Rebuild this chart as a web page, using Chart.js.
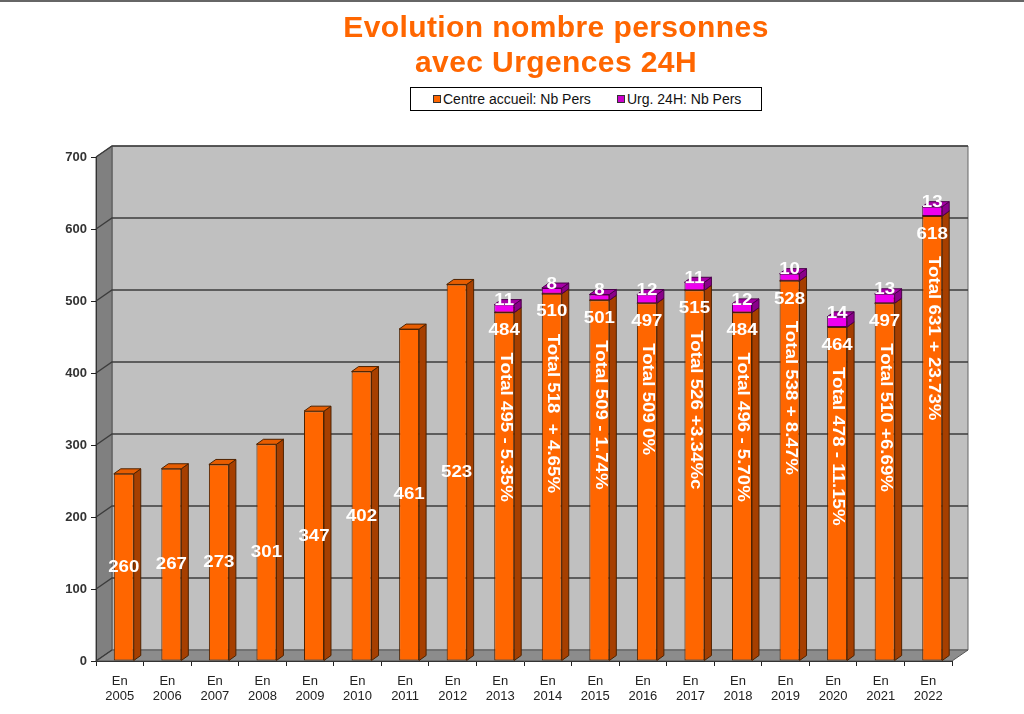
<!DOCTYPE html>
<html>
<head>
<meta charset="utf-8">
<script src="https://cdn.jsdelivr.net/npm/chart.js@4/dist/chart.umd.min.js"></script>
<style>
  body { margin: 0; background: #fff; font-family: "Liberation Sans", Arial, sans-serif; }
  #wrap { position: relative; width: 1024px; height: 714px; overflow: hidden; }
  #frame { position: absolute; left: 0; top: 0; width: 1024px; height: 2px; background: #666; }
  #title { position: absolute; left: 206px; top: 9px; width: 700px; text-align: center;
           color: #ff6600; font-weight: bold; font-size: 30px; line-height: 35px; letter-spacing: 0.4px; }
  #legend { position: absolute; left: 410px; top: 87px; width: 350px; height: 22px;
            border: 1px solid #000; font-size: 14px; color: #111; background: #fff; }
  #legend .sq { position: absolute; top: 7px; width: 6px; height: 6px; border: 1px solid #333; }
  #legend .tx { position: absolute; top: 0; line-height: 22px; white-space: nowrap; }
</style>
</head>
<body>
<div id="wrap">
  <canvas id="chart" width="1024" height="714"></canvas>
  <div id="frame"></div>
  <div id="title">Evolution nombre personnes<br>avec Urgences 24H</div>
  <div id="legend"></div>
</div>
<script>
// --- DATA ---
const years = ['2005','2006','2007','2008','2009','2010','2011','2012','2013',
               '2014','2015','2016','2017','2018','2019','2020','2021','2022'];
const centreAccueil = [260, 267, 273, 301, 347, 402, 461, 523, 484,
                       510, 501, 497, 515, 484, 528, 464, 497, 618];
const urgences24h = [null, null, null, null, null, null, null, null, 11,
                     8, 8, 12, 11, 12, 10, 14, 13, 13];
const totalLabels = [null, null, null, null, null, null, null, null,
  'Total 495 - 5.35%', 'Total 518  + 4.65%', 'Total 509 - 1.74%', 'Total 509 0%',
  'Total 526 +3.34%c', 'Total 496 - 5.70%', 'Total 538 + 8.47%', 'Total 478 - 11.15%',
  'Total 510 +6.69%', 'Total 631 + 23.73%'];
const yTicks = [0, 100, 200, 300, 400, 500, 600, 700];

const seriesNames = ['Centre accueil: Nb Pers', 'Urg. 24H: Nb Pers'];
const ORANGE = '#ff6600', PURPLE = '#ee00ee';

// --- 3D look ---
const WALL_DX = 16, WALL_DY = -11;   // depth of the walls
const BAR_DX = 7, BAR_DY = -5;       // depth of the bars
const SHIFT_X = 4;                   // bars sit a bit into the depth
const STRETCH = 1.1;                 // labels are a little wide in the original

const faceColors = [
  { side: '#a63f00', top: '#e85d00', line: '#4d2200' },
  { side: '#8a008a', top: '#a800a8', line: '#4a004a' }
];

function poly(ctx, pts, fill, stroke) {
  ctx.beginPath();
  ctx.moveTo(pts[0][0], pts[0][1]);
  for (let i = 1; i < pts.length; i++) ctx.lineTo(pts[i][0], pts[i][1]);
  ctx.closePath();
  if (fill) { ctx.fillStyle = fill; ctx.fill(); }
  if (stroke) { ctx.strokeStyle = stroke; ctx.lineWidth = 1; ctx.stroke(); }
}

function wideText(ctx, txt, x, y, angle) {
  ctx.save();
  ctx.translate(x, y);
  if (angle) ctx.rotate(angle);
  ctx.scale(STRETCH, 1);
  ctx.fillText(txt, 0, 0);
  ctx.restore();
}

const box3d = {
  id: 'box3d',
  beforeDraw(chart) {
    const { ctx, chartArea: a, scales } = chart;
    const L = a.left, R = a.right, T = a.top, B = a.bottom;
    ctx.save();
    // back wall
    poly(ctx, [[L + WALL_DX, T + WALL_DY], [R + WALL_DX, T + WALL_DY],
               [R + WALL_DX, B + WALL_DY], [L + WALL_DX, B + WALL_DY]], '#c0c0c0', '#666');
    // left wall
    poly(ctx, [[L, T], [L + WALL_DX, T + WALL_DY], [L + WALL_DX, B + WALL_DY], [L, B]], '#808080', '#555');
    // floor
    poly(ctx, [[L, B], [R, B], [R + WALL_DX, B + WALL_DY], [L + WALL_DX, B + WALL_DY]], '#8c8c8c', '#555');
    // grid lines
    ctx.strokeStyle = '#3c3c3c';
    ctx.lineWidth = 1.4;
    yTicks.forEach(v => {
      const y = scales.y.getPixelForValue(v);
      ctx.beginPath();
      ctx.moveTo(L, y);
      ctx.lineTo(L + WALL_DX, y + WALL_DY);
      if (v > 0) ctx.lineTo(R + WALL_DX, y + WALL_DY);
      ctx.stroke();
    });
    ctx.restore();
  },
  beforeDatasetsDraw(chart) {
    const ctx = chart.ctx;
    ctx.save();
    ctx.translate(SHIFT_X, 0);
    chart.data.datasets.forEach((ds, di) => {
      const meta = chart.getDatasetMeta(di);
      const c = faceColors[di];
      meta.data.forEach((el, i) => {
        if (ds.data[i] == null) return;
        const l = el.x - el.width / 2, r = el.x + el.width / 2;
        const t = el.y, b = el.base;
        poly(ctx, [[r, b], [r + BAR_DX, b + BAR_DY], [r + BAR_DX, t + BAR_DY], [r, t]], c.side, c.line);
        poly(ctx, [[l, t], [r, t], [r + BAR_DX, t + BAR_DY], [l + BAR_DX, t + BAR_DY]], c.top, c.line);
      });
    });
  },
  afterDatasetsDraw(chart) {
    const ctx = chart.ctx;
    const m0 = chart.getDatasetMeta(0), m1 = chart.getDatasetMeta(1);
    ctx.fillStyle = '#fff';
    ctx.font = 'bold 17px "Liberation Sans", Arial, sans-serif';
    ctx.textAlign = 'center';
    ctx.textBaseline = 'middle';
    m0.data.forEach((el, i) => {
      const hasUrg = urgences24h[i] != null;
      const y = hasUrg ? el.y + 18 : (el.y + el.base) / 2;
      wideText(ctx, String(centreAccueil[i]), el.x, y);
      if (hasUrg) {
        const p = m1.data[i];
        wideText(ctx, String(urgences24h[i]), p.x, p.y - 4);
      }
      if (totalLabels[i]) {
        ctx.textAlign = 'left';
        wideText(ctx, totalLabels[i], el.x + 1, el.y + 40, Math.PI / 2);
        ctx.textAlign = 'center';
      }
    });
    ctx.restore(); // undo SHIFT_X
  }
};

new Chart(document.getElementById('chart'), {
  type: 'bar',
  data: {
    labels: years.map(y => ['En', y]),
    datasets: [
      { label: seriesNames[0], data: centreAccueil, backgroundColor: ORANGE,
        borderColor: '#4d2200', borderWidth: 1, borderSkipped: false },
      { label: seriesNames[1], data: urgences24h, backgroundColor: PURPLE,
        borderColor: '#4a004a', borderWidth: 1, borderSkipped: false }
    ]
  },
  options: {
    responsive: false,
    animation: false,
    devicePixelRatio: 1,
    layout: { padding: { top: 157, right: 72, bottom: 0, left: 0 } },
    datasets: { bar: { categoryPercentage: 1, barPercentage: 0.42 } },
    plugins: { legend: { display: false }, title: { display: false }, tooltip: { enabled: false } },
    scales: {
      x: {
        stacked: true,
        afterFit: s => { s.height = 53; },
        grid: { drawOnChartArea: false, drawTicks: true, tickLength: 5, color: '#222', offset: true },
        border: { display: true, color: '#333' },
        ticks: { color: '#222', padding: 8, font: { size: 13, family: '"Liberation Sans", Arial', lineHeight: 1.15 },
                 maxRotation: 0, autoSkip: false }
      },
      y: {
        stacked: true,
        min: 0, max: 700,
        afterFit: s => { s.width = 96; },
        afterBuildTicks: s => { s.ticks = yTicks.map(v => ({ value: v })); },
        grid: { drawOnChartArea: false, drawTicks: true, tickLength: 5, color: '#222' },
        border: { display: true, color: '#333' },
        ticks: { color: '#333', padding: 4, font: { size: 13, weight: 'bold', family: '"Liberation Sans", Arial' } }
      }
    }
  },
  plugins: [box3d]
});

// legend (HTML, boxed like the original)
const legend = document.getElementById('legend');
const legendPos = [{ sq: 22, tx: 32 }, { sq: 206, tx: 216 }];
[ORANGE, PURPLE].forEach((col, i) => {
  const sq = document.createElement('div');
  sq.className = 'sq';
  sq.style.left = legendPos[i].sq + 'px';
  sq.style.background = i === 0 ? ORANGE : '#cc00cc';
  legend.appendChild(sq);
  const tx = document.createElement('div');
  tx.className = 'tx';
  tx.style.left = legendPos[i].tx + 'px';
  tx.textContent = seriesNames[i];
  legend.appendChild(tx);
});
</script>
</body>
</html>
